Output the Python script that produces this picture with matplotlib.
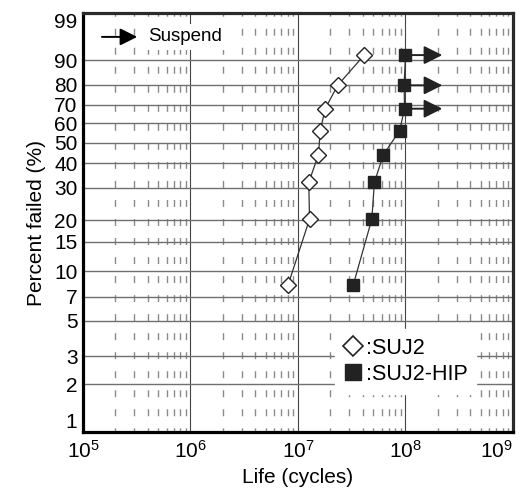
import numpy as np
import matplotlib
matplotlib.use('Agg')
import matplotlib.pyplot as plt
from matplotlib.lines import Line2D
from matplotlib.ticker import FixedLocator, NullFormatter

plt.rcParams['font.family'] = ['Liberation Sans', 'DejaVu Sans']
plt.rcParams['mathtext.fontset'] = 'custom'
plt.rcParams['mathtext.rm'] = 'Liberation Sans'
plt.rcParams['mathtext.it'] = 'Liberation Sans'

# median ranks (%) for 8 specimens
percent = [8.3, 20.2, 32.1, 44.0, 56.0, 67.9, 79.8, 91.7]
life_suj2 = [8.1e6, 1.28e7, 1.26e7, 1.55e7, 1.61e7, 1.79e7, 2.34e7, 4.13e7]
life_hip = [3.27e7, 4.86e7, 5.14e7, 6.22e7, 8.8e7, 9.8e7, 9.7e7, 1.0e8]
suspended_hip = [False, False, False, False, False, True, True, True]
arrow_end = 2.2e8

y_ticks = [1, 2, 3, 5, 7, 10, 15, 20, 30, 40, 50, 60, 70, 80, 90, 99]
x_decades = [1e5, 1e6, 1e7, 1e8, 1e9]


def weib(p):
    p = np.clip(np.asarray(p, dtype=float), 1e-6, 100 - 1e-6)
    return np.log(-np.log(1 - p / 100.0))


def weib_inv(w):
    return 100.0 * (1 - np.exp(-np.exp(np.asarray(w, dtype=float))))


fig = plt.figure(figsize=(5.27, 4.95), dpi=100)
ax = fig.add_axes([0.1575, 0.1273, 0.8159, 0.8464])

ax.set_xscale('log')
ax.set_yscale('function', functions=(weib, weib_inv))
ax.set_xlim(1e5, 1e9)
ax.set_ylim(1, 99)

ax.yaxis.set_major_locator(FixedLocator(y_ticks))
ax.set_yticklabels([str(t) for t in y_ticks])
ax.yaxis.set_minor_locator(FixedLocator([]))
ax.xaxis.set_major_locator(FixedLocator(x_decades))
ax.set_xticklabels([r'$10^{%d}$' % int(np.log10(v)) for v in x_decades])
minors = [m * d for d in x_decades[:-1] for m in range(2, 10)]
ax.xaxis.set_minor_locator(FixedLocator(minors))
ax.xaxis.set_minor_formatter(NullFormatter())

ax.tick_params(which='both', length=0, labelsize=15)
ax.tick_params(axis='x', pad=6)
ax.tick_params(axis='y', pad=4)
ylabs = ax.get_yticklabels()
ylabs[0].set_va('bottom')
ylabs[-1].set_va('top')
ax.get_xticklabels()[-1].set_ha('right')

ax.set_axisbelow(True)
ax.grid(True, axis='y', which='major', color='#707070', lw=1.0)
ax.grid(True, axis='x', which='major', color='#444444', lw=0.8)
ax.grid(True, axis='x', which='minor', color='#8a8a8a', lw=1.0,
        linestyle=(2, (5, 8.7)))

for s in ax.spines.values():
    s.set_linewidth(2.3)
    s.set_color('#2a2a2a')
ax.spines['left'].set_color('black')
ax.spines['bottom'].set_color('black')

ax.plot(life_suj2, percent, color='#333333', lw=0.9, marker='D', ms=8.5,
        mfc='white', mec='#222222', mew=1.0, zorder=4)
ax.plot(life_hip, percent, color='#333333', lw=0.9, marker='s', ms=9.2,
        mfc='#222222', mec='#222222', zorder=4)

for x, y, s in zip(life_hip, percent, suspended_hip):
    if s:
        ax.annotate('', xy=(arrow_end, y), xytext=(x, y),
                    arrowprops=dict(arrowstyle='-|>', mutation_scale=28,
                                    lw=1.4, color='#222222',
                                    shrinkA=0, shrinkB=0), zorder=3)

# suspend key
ax.annotate('', xy=(0.126, 0.943), xytext=(0.044, 0.943),
            xycoords='axes fraction',
            arrowprops=dict(arrowstyle='-|>', mutation_scale=26, lw=1.4,
                            color='black', shrinkA=0, shrinkB=0), zorder=6)
ax.text(0.152, 0.943, 'Suspend', transform=ax.transAxes, fontsize=13.5,
        va='center', ha='left', zorder=6,
        bbox=dict(facecolor='white', edgecolor='none', pad=3))

handles = [
    Line2D([], [], ls='none', marker='D', ms=10, mfc='white', mec='#222222', mew=1.2),
    Line2D([], [], ls='none', marker='s', ms=12, mfc='#222222', mec='#222222'),
]
leg = ax.legend(handles, [':SUJ2', ':SUJ2-HIP'], loc='lower left',
                bbox_to_anchor=(0.56, 0.066), fontsize=15.5, frameon=True,
                fancybox=False, framealpha=1, edgecolor='white',
                handlelength=0.9, handletextpad=0.15, labelspacing=0.25,
                borderpad=0.4)
leg.set_zorder(5)

ax.set_xlabel('Life (cycles)', fontsize=15, labelpad=4)
ax.set_ylabel('Percent failed (%)', fontsize=15, labelpad=6)

fig.savefig('out.png', dpi=100)
